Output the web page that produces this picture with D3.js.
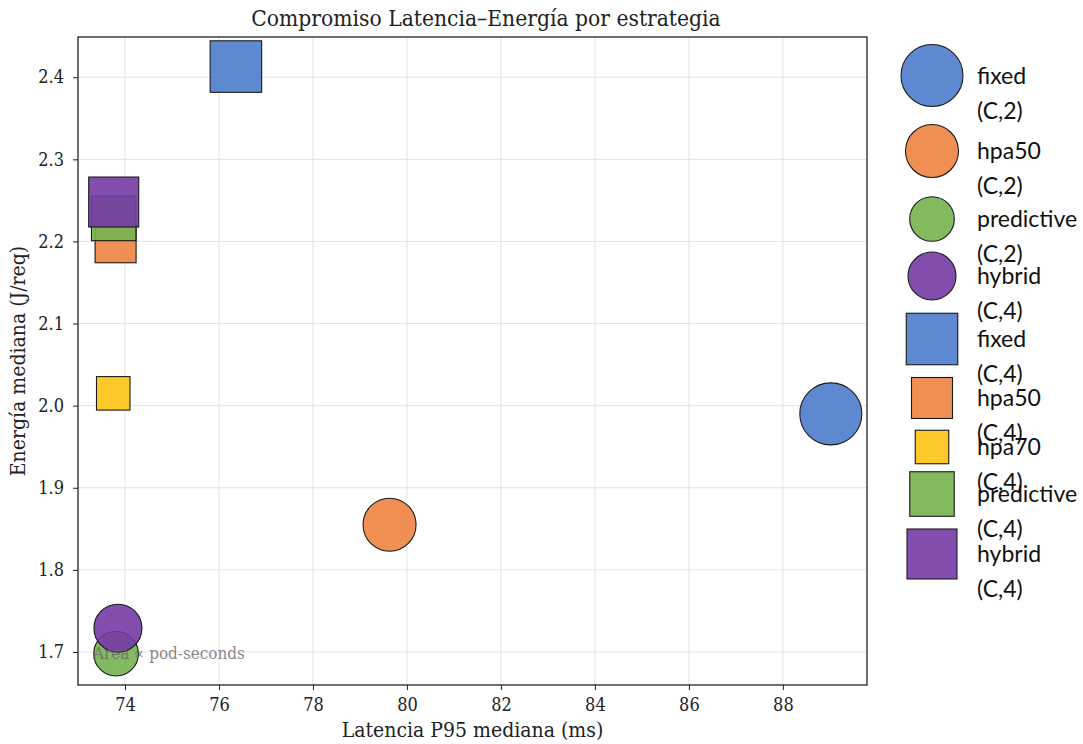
<!DOCTYPE html>
<html>
<head>
<meta charset="utf-8">
<script src="https://cdn.jsdelivr.net/npm/d3@7"></script>
<style>
  html, body { margin: 0; padding: 0; background: #fff; }
  svg { display: block; }
  .serif { font-family: "DejaVu Serif Condensed", "DejaVu Serif", serif; font-stretch: condensed; }
</style>
</head>
<body>
<svg id="chart" width="1083" height="744"></svg>
<script>
// Latency / energy trade-off per autoscaling strategy and configuration
const strategies = ["fixed", "hpa50", "predictive", "hybrid", "fixed", "hpa50", "hpa70", "predictive", "hybrid"];
const configLabels = ["(C,2)", "(C,2)", "(C,2)", "(C,4)", "(C,4)", "(C,4)", "(C,4)", "(C,4)", "(C,4)"];
const shapes = ["circle", "circle", "circle", "circle", "square", "square", "square", "square", "square"];
const latencyP95 = [89.02, 79.63, 73.81, 73.85, 76.36, 73.80, 73.75, 73.76, 73.76];
const energyPerReq = [1.990, 1.855, 1.698, 1.729, 2.413, 2.199, 2.015, 2.228, 2.248];
const podSeconds = [1922, 1405, 995, 1152, 1326, 840, 561, 990, 1250];

const xTicks = [74, 76, 78, 80, 82, 84, 86, 88];
const yTicks = [1.7, 1.8, 1.9, 2.0, 2.1, 2.2, 2.3, 2.4];

const strategyColors = {
  fixed: "#4c7bca",
  hpa50: "#ee8340",
  hpa70: "#fdc313",
  predictive: "#76b34f",
  hybrid: "#763aa5"
};

const svg = d3.select("#chart");
const plot = { left: 78, right: 867, top: 37, bottom: 685 };

const x = d3.scaleLinear().domain([73.0, 89.79]).range([plot.left, plot.right]);
const y = d3.scaleLinear().domain([1.6598, 2.449]).range([plot.bottom, plot.top]);
const size = d3.scaleSqrt().domain([0, 1922]).range([0, 62]); // marker diameter / side

// grid
const grid = svg.append("g");
grid.selectAll("line.vx").data(xTicks).join("line")
  .attr("x1", d => x(d)).attr("x2", d => x(d))
  .attr("y1", plot.top).attr("y2", plot.bottom)
  .attr("stroke", "#e3e3e3").attr("stroke-width", 1);
grid.selectAll("line.hy").data(yTicks).join("line")
  .attr("y1", d => y(d)).attr("y2", d => y(d))
  .attr("x1", plot.left).attr("x2", plot.right)
  .attr("stroke", "#e3e3e3").attr("stroke-width", 1);

// axes
const xAxis = svg.append("g")
  .attr("transform", `translate(0,${plot.bottom})`)
  .call(d3.axisBottom(x).tickValues(xTicks).tickFormat(d3.format("d")).tickSize(5).tickPadding(8));
const yAxis = svg.append("g")
  .attr("transform", `translate(${plot.left},0)`)
  .call(d3.axisLeft(y).tickValues(yTicks).tickFormat(d3.format(".1f")).tickSize(5).tickPadding(9));
[xAxis, yAxis].forEach(a => {
  a.select(".domain").remove();
  a.selectAll(".tick line").attr("stroke", "#222").attr("stroke-width", 1);
  a.selectAll(".tick text").attr("class", "serif").attr("font-family", null)
    .attr("font-size", 18).attr("fill", "#222");
});

// markers
const marks = svg.append("g");
const idx = d3.range(strategies.length);
idx.forEach(i => {
  const cx = x(latencyP95[i]), cy = y(energyPerReq[i]), s = size(podSeconds[i]);
  const el = shapes[i] === "circle"
    ? marks.append("circle").attr("cx", cx).attr("cy", cy).attr("r", s / 2)
    : marks.append("rect").attr("x", cx - s / 2).attr("y", cy - s / 2).attr("width", s).attr("height", s);
  el.attr("fill", strategyColors[strategies[i]]).attr("fill-opacity", 0.9)
    .attr("stroke", "#1a1a1a").attr("stroke-width", 1.1);
});

// frame
svg.append("rect")
  .attr("x", plot.left).attr("y", plot.top)
  .attr("width", plot.right - plot.left).attr("height", plot.bottom - plot.top)
  .attr("fill", "none").attr("stroke", "#222").attr("stroke-width", 1.3);

// size note
svg.append("text").attr("class", "serif")
  .attr("x", 93).attr("y", 659)
  .attr("font-size", 16.9)
  .attr("fill", "#666").attr("fill-opacity", 0.8)
  .text("Area ∝ pod-seconds");

// title and axis labels
svg.append("text").attr("class", "serif")
  .attr("x", 486).attr("y", 26).attr("text-anchor", "middle")
  .attr("font-size", 22.6).attr("fill", "#222")
  .text("Compromiso Latencia–Energía por estrategia");
svg.append("text").attr("class", "serif")
  .attr("x", (plot.left + plot.right) / 2).attr("y", 737).attr("text-anchor", "middle")
  .attr("font-size", 21).attr("fill", "#222")
  .text("Latencia P95 mediana (ms)");
svg.append("text").attr("class", "serif")
  .attr("transform", `translate(25,${(plot.top + plot.bottom) / 2}) rotate(-90)`)
  .attr("text-anchor", "middle")
  .attr("font-size", 21).attr("fill", "#222")
  .text("Energía mediana (J/req)");

// legend: marker plus two-line label per entry
const legendCenters = [75.5, 151, 219, 276, 339, 398, 447, 494, 554];
const legend = svg.append("g");
idx.forEach(i => {
  const cx = 932, cy = legendCenters[i], s = size(podSeconds[i]);
  const el = shapes[i] === "circle"
    ? legend.append("circle").attr("cx", cx).attr("cy", cy).attr("r", s / 2)
    : legend.append("rect").attr("x", cx - s / 2).attr("y", cy - s / 2).attr("width", s).attr("height", s);
  el.attr("fill", strategyColors[strategies[i]]).attr("fill-opacity", 0.9)
    .attr("stroke", "#1a1a1a").attr("stroke-width", 1.1);
  const t = legend.append("text")
    .attr("x", 977).attr("y", cy)
    .attr("font-family", "Lato, sans-serif").attr("font-size", 23).attr("fill", "#111");
  t.append("tspan").attr("x", 977).attr("dy", "0.35em").text(strategies[i]);
  t.append("tspan").attr("x", 977).attr("dy", 35).text(configLabels[i]);
});
</script>
</body>
</html>
